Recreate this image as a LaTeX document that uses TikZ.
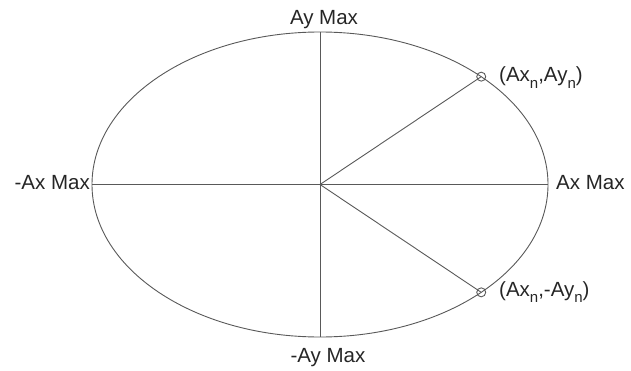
\documentclass[tikz,border=0pt]{standalone}
\usepackage{fontspec}
\setmainfont{Liberation Sans}
\usetikzlibrary{calc}
\newcommand{\sbn}{\raisebox{-0.32em}{\fontsize{15pt}{15pt}\selectfont n}}
\begin{document}
\begin{tikzpicture}[x=1pt,y=1pt,
  ln/.style={draw=black!65,line width=0.9pt},
  lbl/.style={inner sep=0pt,font=\fontsize{20.5pt}{23pt}\selectfont,text=black!85},
  pt/.style={circle,draw=black!65,line width=0.9pt,minimum size=9pt,inner sep=0pt}]
\useasboundingbox (0,0) rectangle (631,370);
\coordinate (c) at (320,185.5);
\draw[ln] (c) ellipse [x radius=228, y radius=152.5];
\coordinate (top) at (320,338);
\coordinate (bot) at (320,33);
\coordinate (lft) at (92,185.5);
\coordinate (rgt) at (548,185.5);
\draw[ln] (top) -- (bot);
\draw[ln] (lft) -- (rgt);
\node[pt] (p1) at ($(c)+(45:228 and 152.5)$) {};
\node[pt] (p2) at ($(c)+(-45:228 and 152.5)$) {};
\draw[ln] (c) -- (p1.center);
\draw[ln] (c) -- (p2.center);
\node[lbl,anchor=base] (ay) at (324,345) {Ay Max};
\node[lbl,anchor=base] (may) at (328,8) {-Ay Max};
\node[lbl,anchor=base east] (max) at (90,181) {-Ax Max};
\node[lbl,anchor=base west] (ax) at (556,181) {Ax Max};
\node[lbl,anchor=base west] (l1) at (499,288) {(Ax\sbn,Ay\sbn)};
\node[lbl,anchor=base west] (l2) at (499,74) {(Ax\sbn,-Ay\sbn)};
\end{tikzpicture}
\end{document}
